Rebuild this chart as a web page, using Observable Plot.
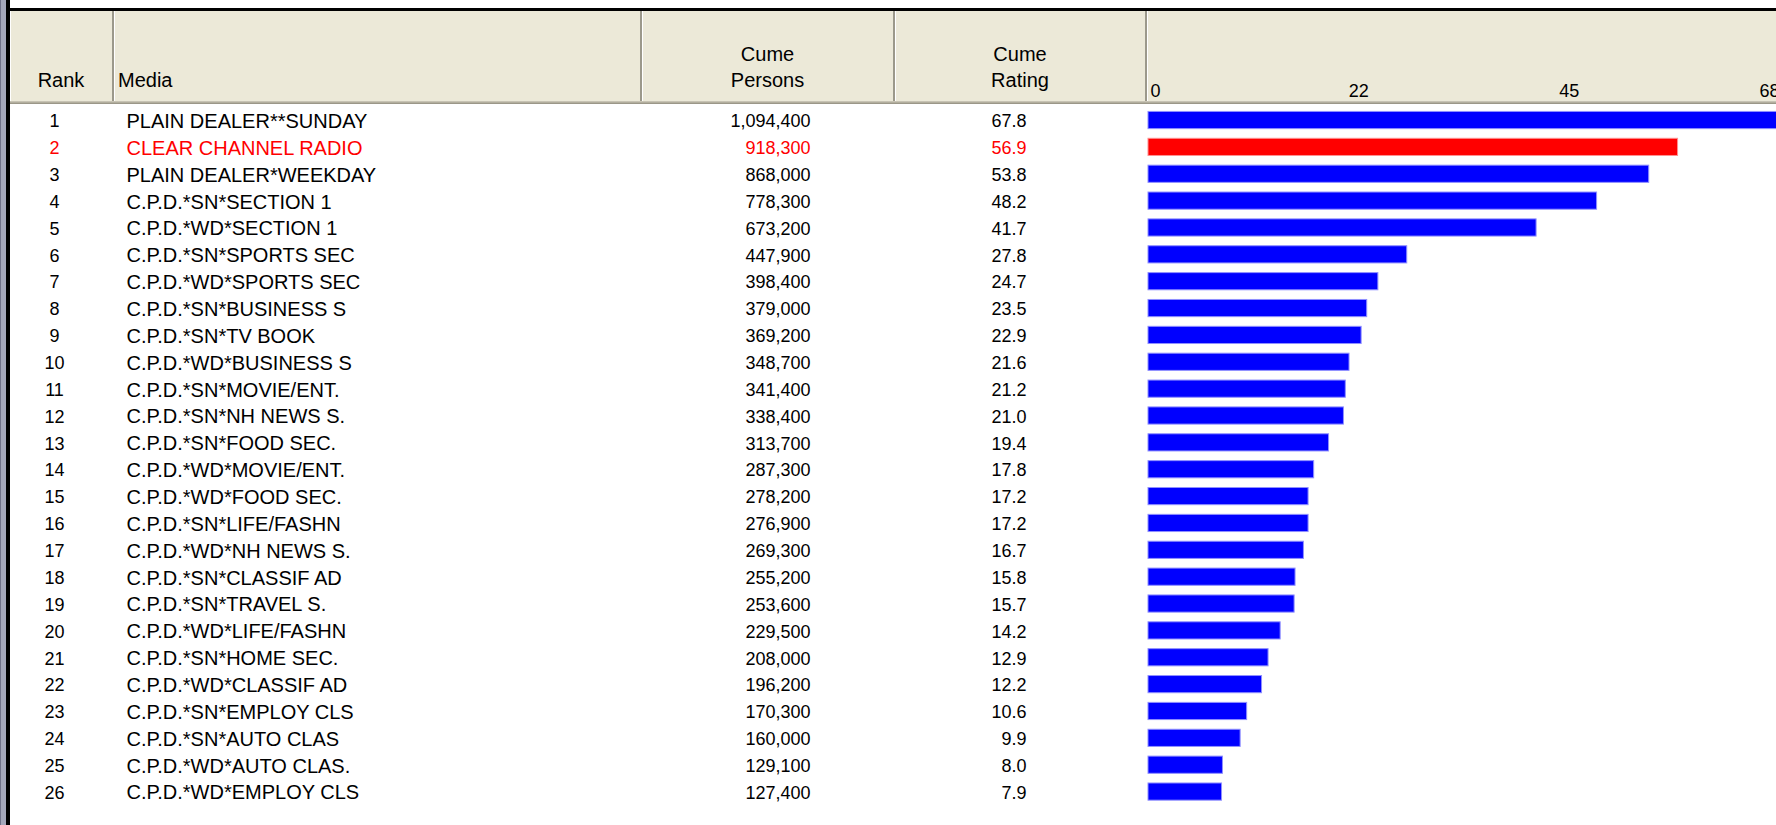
<!DOCTYPE html>
<html>
<head>
<meta charset="utf-8">
<script src="https://cdn.jsdelivr.net/npm/d3@7"></script>
<script src="https://cdn.jsdelivr.net/npm/@observablehq/plot@0.6"></script>
<style>
html, body { margin: 0; padding: 0; background: #fff; overflow: hidden; }
#wrap { position: relative; width: 1776px; height: 825px; overflow: hidden;
  font-family: "Liberation Sans", Arial, sans-serif; font-size: 20px; color: #000; }
.abs { position: absolute; }
#stripe { left: 0; top: 0; width: 6px; height: 825px; background: #A4A7BA; border-left: 1px solid #707289; box-sizing: border-box; }
#vline { left: 6px; top: 0; width: 4px; height: 825px; background: #000; }
#hline { left: 6px; top: 8px; width: 1770px; height: 3px; background: #000; }
.hcell { top: 11px; height: 90px; background: #ECE9D8; box-sizing: border-box;
  border-right: 2px solid #9C998B; box-shadow: inset 1px 0 0 #FFFFFF;
  display: flex; align-items: flex-end; padding-bottom: 8px; line-height: 26px; }
.hcell.center { justify-content: center; text-align: center; }
#hbottom { left: 10px; top: 101px; width: 1766px; height: 3px;
  background: linear-gradient(#D2CEBF, #B2AE9E, #8F8B7D); }
#chart { left: 0; top: 0; }
</style>
</head>
<body>
<div id="wrap">
  <div class="abs" id="stripe"></div>
  <div class="abs" id="hline"></div>
  <div class="abs hcell center" style="left:10px;width:104px;">Rank</div>
  <div class="abs hcell" style="left:114px;width:528px;padding-left:4px;">Media</div>
  <div class="abs hcell center" style="left:642px;width:253px;">Cume<br>Persons</div>
  <div class="abs hcell center" style="left:895px;width:252px;">Cume<br>Rating</div>
  <div class="abs hcell" style="left:1147px;width:640px;border-right:none;"></div>
  <div class="abs" id="hbottom"></div>
  <div class="abs" id="vline"></div>
  <div class="abs" id="chart"></div>
</div>
<script>
// ---- data ----
const ranks = [1,2,3,4,5,6,7,8,9,10,11,12,13,14,15,16,17,18,19,20,21,22,23,24,25,26];
const media = [
  "PLAIN DEALER**SUNDAY", "CLEAR CHANNEL RADIO", "PLAIN DEALER*WEEKDAY",
  "C.P.D.*SN*SECTION 1", "C.P.D.*WD*SECTION 1", "C.P.D.*SN*SPORTS SEC",
  "C.P.D.*WD*SPORTS SEC", "C.P.D.*SN*BUSINESS S", "C.P.D.*SN*TV BOOK",
  "C.P.D.*WD*BUSINESS S", "C.P.D.*SN*MOVIE/ENT.", "C.P.D.*SN*NH NEWS S.",
  "C.P.D.*SN*FOOD SEC.", "C.P.D.*WD*MOVIE/ENT.", "C.P.D.*WD*FOOD SEC.",
  "C.P.D.*SN*LIFE/FASHN", "C.P.D.*WD*NH NEWS S.", "C.P.D.*SN*CLASSIF AD",
  "C.P.D.*SN*TRAVEL S.", "C.P.D.*WD*LIFE/FASHN", "C.P.D.*SN*HOME SEC.",
  "C.P.D.*WD*CLASSIF AD", "C.P.D.*SN*EMPLOY CLS", "C.P.D.*SN*AUTO CLAS",
  "C.P.D.*WD*AUTO CLAS.", "C.P.D.*WD*EMPLOY CLS"
];
const cumePersons = [1094400, 918300, 868000, 778300, 673200, 447900, 398400, 379000, 369200,
  348700, 341400, 338400, 313700, 287300, 278200, 276900, 269300, 255200, 253600, 229500,
  208000, 196200, 170300, 160000, 129100, 127400];
const cumeRating = [67.8, 56.9, 53.8, 48.2, 41.7, 27.8, 24.7, 23.5, 22.9, 21.6, 21.2, 21.0,
  19.4, 17.8, 17.2, 17.2, 16.7, 15.8, 15.7, 14.2, 12.9, 12.2, 10.6, 9.9, 8.0, 7.9];
const highlightRank = 2;
const tickLabels = ["0", "22", "45", "68"];

// ---- build table ----
const rows = ranks.map((r, i) => ({rank: r, media: media[i], persons: cumePersons[i], rating: cumeRating[i]}));
const ratingMax = d3.max(cumeRating);
const ticks = tickLabels.map((label, i) => ({v: i * ratingMax / (tickLabels.length - 1), label, i}));
const lastTick = ticks.length - 1;
const isHi = d => d.rank === highlightRank;
const textFill = d => isHi(d) ? "#FF0000" : "#000000";
const fmtPersons = d3.format(",");
const fmtRating = d3.format(".1f");

// column layout (pixel positions of the text columns)
const col = {rank: 54, media: 126, persons: 810, rating: 1026};
const numStyle = {fontSize: 18};

const chart = Plot.plot({
  width: 1776,
  height: 825,
  margin: 0,
  style: {background: "transparent", fontFamily: "'Liberation Sans', Arial, sans-serif", fontSize: "20px", overflow: "visible", color: "#000"},
  x: {domain: [0, ratingMax], range: [1148, 1779], axis: null},
  y: {type: "band", domain: ranks, range: [106.6, 805], paddingInner: 0.36, paddingOuter: 0.18, round: false, axis: null},
  marks: [
    Plot.barX(rows, {
      x: "rating", y: "rank",
      fill: d => isHi(d) ? "#FF0000" : "#0000FF",
      stroke: d => isHi(d) ? "#FF9090" : "#9090FF",
      strokeWidth: 1
    }),
    Plot.text(rows, {y: "rank", text: d => String(d.rank), frameAnchor: "left", dx: col.rank, dy: 1, textAnchor: "middle", fill: textFill, ...numStyle}),
    Plot.text(rows, {y: "rank", text: "media", frameAnchor: "left", dx: col.media, dy: 1, textAnchor: "start", fill: textFill}),
    Plot.text(rows, {y: "rank", text: d => fmtPersons(d.persons), frameAnchor: "left", dx: col.persons, dy: 1, textAnchor: "end", fill: textFill, ...numStyle, letterSpacing: "-0.4px"}),
    Plot.text(rows, {y: "rank", text: d => fmtRating(d.rating), frameAnchor: "left", dx: col.rating, dy: 1, textAnchor: "end", fill: textFill, ...numStyle}),
    // axis tick labels in the header of the bar column
    Plot.text(ticks.filter(t => t.i === 0), {x: "v", text: "label", frameAnchor: "top", dy: 96, dx: 2, lineAnchor: "bottom", textAnchor: "start", fill: "#000", ...numStyle}),
    Plot.text(ticks.filter(t => t.i > 0 && t.i < lastTick), {x: "v", text: "label", frameAnchor: "top", dy: 96, lineAnchor: "bottom", textAnchor: "middle", fill: "#000", ...numStyle}),
    Plot.text(ticks.filter(t => t.i === lastTick), {x: "v", text: "label", frameAnchor: "top", dy: 96, lineAnchor: "bottom", textAnchor: "end", fill: "#000", ...numStyle})
  ]
});
document.getElementById("chart").appendChild(chart);
</script>
</body>
</html>
